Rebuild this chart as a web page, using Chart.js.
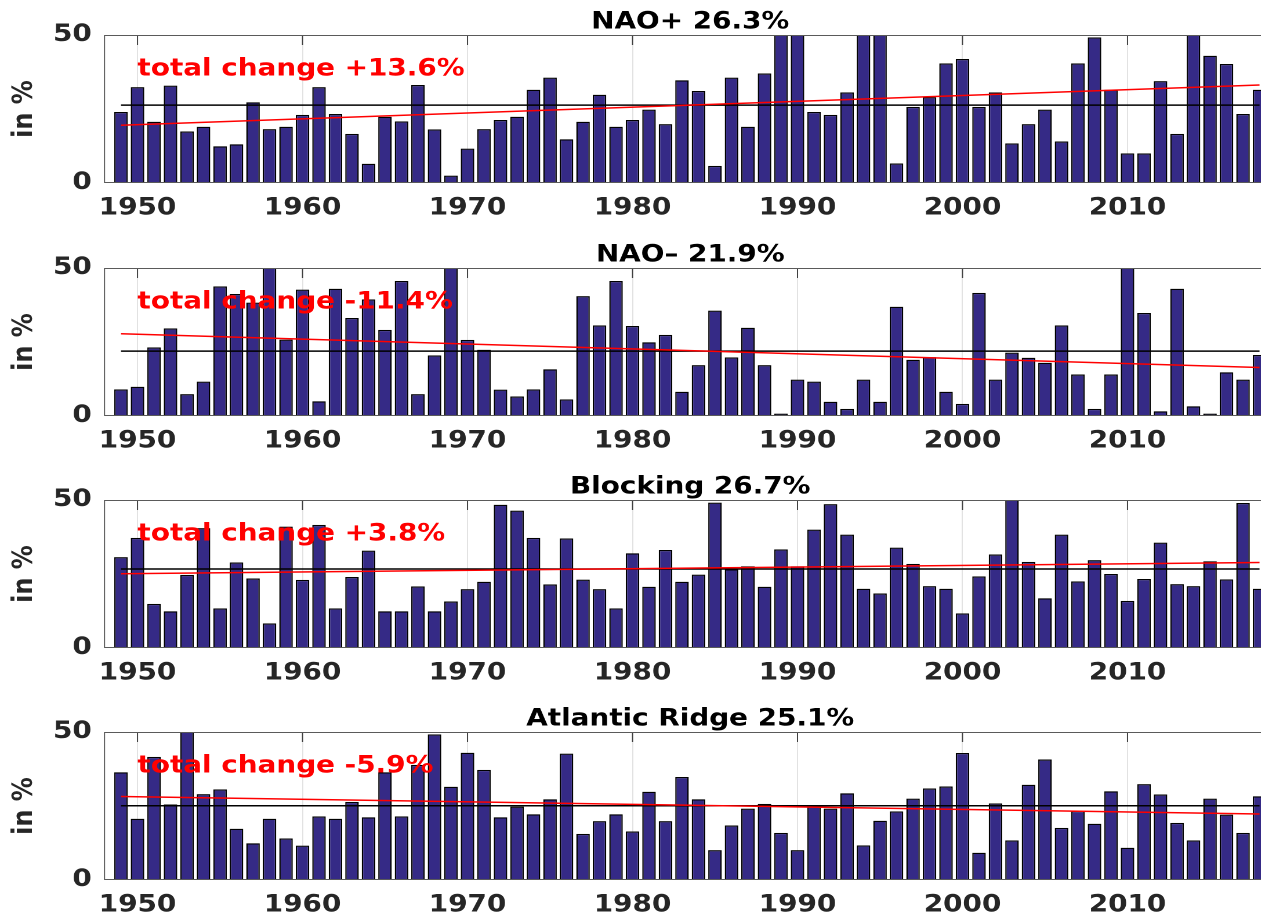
<!DOCTYPE html>
<html>
<head>
<meta charset="utf-8">
<script src="https://cdn.jsdelivr.net/npm/chart.js@4.4.1/dist/chart.umd.min.js"></script>
<style>
html, body { margin: 0; padding: 0; background: #ffffff; width: 1261px; height: 918px; overflow: hidden; }
#stage { position: relative; width: 1261px; height: 918px; overflow: hidden; background: #ffffff; }
.panel { position: absolute; left: 0; transform-origin: 0 0; }
.panel canvas { display: block; }
</style>
</head>
<body>
<div id="stage"></div>
<script>
// ---------------- data ----------------
const years = [
  1949, 1950, 1951, 1952, 1953, 1954, 1955, 1956, 1957, 1958,
  1959, 1960, 1961, 1962, 1963, 1964, 1965, 1966, 1967, 1968,
  1969, 1970, 1971, 1972, 1973, 1974, 1975, 1976, 1977, 1978,
  1979, 1980, 1981, 1982, 1983, 1984, 1985, 1986, 1987, 1988,
  1989, 1990, 1991, 1992, 1993, 1994, 1995, 1996, 1997, 1998,
  1999, 2000, 2001, 2002, 2003, 2004, 2005, 2006, 2007, 2008,
  2009, 2010, 2011, 2012, 2013, 2014, 2015, 2016, 2017, 2018
];

const naoPlus = [
  24.0, 32.4, 20.7, 32.9, 17.4, 19.0, 12.4, 13.1, 27.3, 18.2,
  19.0, 23.0, 32.4, 23.3, 16.6, 6.5, 22.4, 20.8, 33.1, 18.1,
  2.5, 11.6, 18.2, 21.3, 22.4, 31.5, 35.6, 14.8, 20.7, 29.8,
  19.0, 21.3, 24.8, 19.9, 34.7, 31.1, 5.8, 35.6, 19.0, 37.0,
  55.0, 53.0, 24.0, 23.0, 30.6, 56.0, 54.0, 6.6, 25.7, 29.0,
  40.4, 41.9, 25.7, 30.6, 13.4, 19.9, 24.8, 14.0, 40.4, 49.2,
  31.5, 10.0, 10.0, 34.4, 16.6, 54.0, 43.0, 40.2, 23.3, 31.5
];

const naoMinus = [
  9.0, 9.9, 23.2, 29.6, 7.4, 11.6, 43.8, 41.2, 38.3, 55.0,
  25.8, 42.7, 5.0, 43.0, 33.1, 39.4, 29.1, 45.6, 7.4, 20.5,
  54.0, 25.7, 22.4, 8.9, 6.6, 9.0, 15.8, 5.6, 40.5, 30.6,
  45.6, 30.4, 24.9, 27.4, 8.2, 17.2, 35.6, 19.8, 29.8, 17.2,
  0.8, 12.3, 11.6, 4.8, 2.4, 12.3, 4.8, 36.9, 19.0, 19.9,
  8.2, 4.1, 41.6, 12.3, 21.4, 19.7, 18.0, 30.6, 14.0, 2.4,
  14.0, 55.0, 34.8, 1.6, 43.0, 3.3, 0.8, 14.8, 12.3, 20.6
];

const blocking = [
  30.7, 37.2, 14.9, 12.4, 24.7, 40.5, 13.4, 28.9, 23.5, 8.3,
  41.0, 23.0, 41.6, 13.4, 24.0, 32.9, 12.4, 12.4, 20.8, 12.4,
  15.7, 19.9, 22.4, 48.4, 46.4, 37.2, 21.5, 37.0, 23.1, 19.9,
  13.4, 32.0, 20.7, 33.1, 22.4, 24.8, 49.1, 26.6, 27.6, 20.7,
  33.3, 27.6, 40.0, 48.6, 38.3, 20.0, 18.4, 33.9, 28.4, 20.9,
  20.0, 11.7, 24.2, 31.6, 52.0, 29.1, 16.8, 38.3, 22.5, 29.7,
  25.0, 15.9, 23.3, 35.6, 21.6, 20.9, 29.3, 23.2, 49.0, 20.0
];

const atlanticRidge = [
  36.4, 20.7, 41.6, 25.5, 52.0, 29.0, 30.6, 17.3, 12.4, 20.7,
  14.0, 11.6, 21.5, 20.7, 26.4, 21.2, 36.4, 21.5, 38.9, 49.2,
  31.5, 43.0, 37.2, 21.2, 24.8, 22.2, 27.3, 42.7, 15.6, 19.9,
  22.2, 16.4, 29.8, 19.9, 34.8, 27.3, 10.1, 18.4, 24.1, 25.7,
  15.9, 10.1, 24.9, 24.1, 29.3, 11.7, 20.0, 23.2, 27.5, 30.9,
  31.6, 42.9, 9.2, 25.9, 13.4, 32.2, 40.7, 17.6, 23.3, 19.0,
  30.0, 10.9, 32.4, 28.9, 19.3, 13.4, 27.5, 22.1, 15.9, 28.3
];

const panelNames = ['NAO+', 'NAO\u2013', 'Blocking', 'Atlantic Ridge'];
const frequencies = [26.3, 21.9, 26.7, 25.1];      // mean frequency (black line, title)
const trendStart = [19.5, 27.8, 25.1, 28.2];       // trend value at first year
const totalChange = [13.6, -11.4, 3.8, -5.9];      // trend change over the period
const xTickYears = [1950, 1960, 1970, 1980, 1990, 2000, 2010];
const yTickValues = [0, 50];
const panelSeries = [naoPlus, naoMinus, blocking, atlanticRidge];

// ---------------- layout / style ----------------
const STRETCH = 1.16;               // horizontal stretch of the whole figure
const CANVAS_W = 1120, CANVAS_H = 232;
const PLOT_TOP = 35, PLOT_BOTTOM = 183;
const PLOT_LEFT = 104.5 / STRETCH, PLOT_RIGHT = 1276 / STRETCH;
const panelTops = [0, 233, 465, 697];
const FONT = 'DejaVu Sans';
const LABEL_YEAR = 1950, LABEL_VALUE = 36.3;

const framePlugin = {
  id: 'frame',
  beforeDatasetsDraw(chart) {
    const {ctx, chartArea: a, scales: {x}} = chart;
    ctx.save();
    ctx.strokeStyle = '#404040';
    ctx.lineWidth = 1;
    xTickYears.forEach(v => {
      const px = x.getPixelForValue(v);
      ctx.beginPath();
      ctx.moveTo(px, a.top); ctx.lineTo(px, a.top + 10);
      ctx.moveTo(px, a.bottom); ctx.lineTo(px, a.bottom - 10);
      ctx.stroke();
    });
    ctx.restore();
  },
  afterDatasetsDraw(chart, args, opts) {
    const {ctx, chartArea: a, scales: {x, y}} = chart;
    ctx.save();
    // axes box (left, top, bottom)
    ctx.strokeStyle = '#5a5a5a';
    ctx.lineWidth = 1;
    ctx.beginPath();
    ctx.moveTo(a.right + 5, a.top + 0.5);
    ctx.lineTo(a.left, a.top + 0.5);
    ctx.lineTo(a.left, a.bottom - 0.5);
    ctx.lineTo(a.right + 5, a.bottom - 0.5);
    ctx.stroke();
    // total change label
    const c = opts.change;
    ctx.font = 'bold 24px "' + FONT + '"';
    ctx.fillStyle = '#ff0000';
    ctx.textAlign = 'left';
    ctx.textBaseline = 'alphabetic';
    ctx.fillText('total change ' + (c >= 0 ? '+' : '-') + Math.abs(c).toFixed(1) + '%',
                 x.getPixelForValue(LABEL_YEAR), y.getPixelForValue(LABEL_VALUE));
    // title
    ctx.font = 'bold 24px "' + FONT + '"';
    ctx.fillStyle = '#000000';
    ctx.textAlign = 'center';
    ctx.fillText(opts.title, (a.left + a.right) / 2, a.top - 6.5);
    ctx.restore();
  }
};

const stage = document.getElementById('stage');

panelSeries.forEach((values, i) => {
  const div = document.createElement('div');
  div.className = 'panel';
  div.style.top = panelTops[i] + 'px';
  div.style.transform = 'scaleX(' + STRETCH + ')';
  const canvas = document.createElement('canvas');
  canvas.width = CANVAS_W;
  canvas.height = CANVAS_H;
  div.appendChild(canvas);
  stage.appendChild(div);

  const first = years[0], last = years[years.length - 1];
  const tickFont = {family: FONT, size: 24, weight: 'bold'};

  new Chart(canvas, {
    type: 'bar',
    data: {
      datasets: [
        {
          type: 'line',
          data: [{x: first, y: trendStart[i]}, {x: last, y: trendStart[i] + totalChange[i]}],
          borderColor: '#ff0000', borderWidth: 1.5, pointRadius: 0, order: 1
        },
        {
          type: 'line',
          data: [{x: first, y: frequencies[i]}, {x: last, y: frequencies[i]}],
          borderColor: '#000000', borderWidth: 1.5, pointRadius: 0, order: 2
        },
        {
          type: 'bar',
          data: years.map((yr, k) => ({x: yr, y: values[k]})),
          backgroundColor: '#352a86',
          borderColor: '#000000',
          borderWidth: 1.25,
          barPercentage: 0.82,
          categoryPercentage: 1.0,
          order: 3
        }
      ]
    },
    options: {
      responsive: false,
      animation: false,
      devicePixelRatio: 2,
      layout: {padding: {top: PLOT_TOP, right: CANVAS_W - PLOT_RIGHT, left: 0, bottom: 0}},
      plugins: {
        legend: {display: false},
        tooltip: {enabled: false},
        title: {display: false},
        frame: {title: panelNames[i] + ' ' + frequencies[i].toFixed(1) + '%', change: totalChange[i]}
      },
      scales: {
        x: {
          type: 'linear', min: 1948, max: 2019, offset: false,
          grid: {offset: false, color: '#e2e2e2', lineWidth: 1, drawTicks: false},
          border: {display: false},
          afterBuildTicks: s => { s.ticks = xTickYears.map(v => ({value: v})); },
          afterFit: s => { s.height = CANVAS_H - PLOT_BOTTOM; },
          ticks: {
            callback: v => String(v), font: tickFont, color: '#262626',
            padding: 11, maxRotation: 0, autoSkip: false
          }
        },
        y: {
          min: 0, max: 50,
          grid: {display: false, drawTicks: false},
          border: {display: false},
          afterBuildTicks: s => { s.ticks = yTickValues.map(v => ({value: v})); },
          afterFit: s => { s.width = PLOT_LEFT; },
          ticks: {font: tickFont, color: '#262626', padding: 11},
          title: {display: true, text: 'in %', font: tickFont, color: '#262626', padding: {top: 7, bottom: 0}}
        }
      }
    },
    plugins: [framePlugin]
  });
});
</script>
</body>
</html>
